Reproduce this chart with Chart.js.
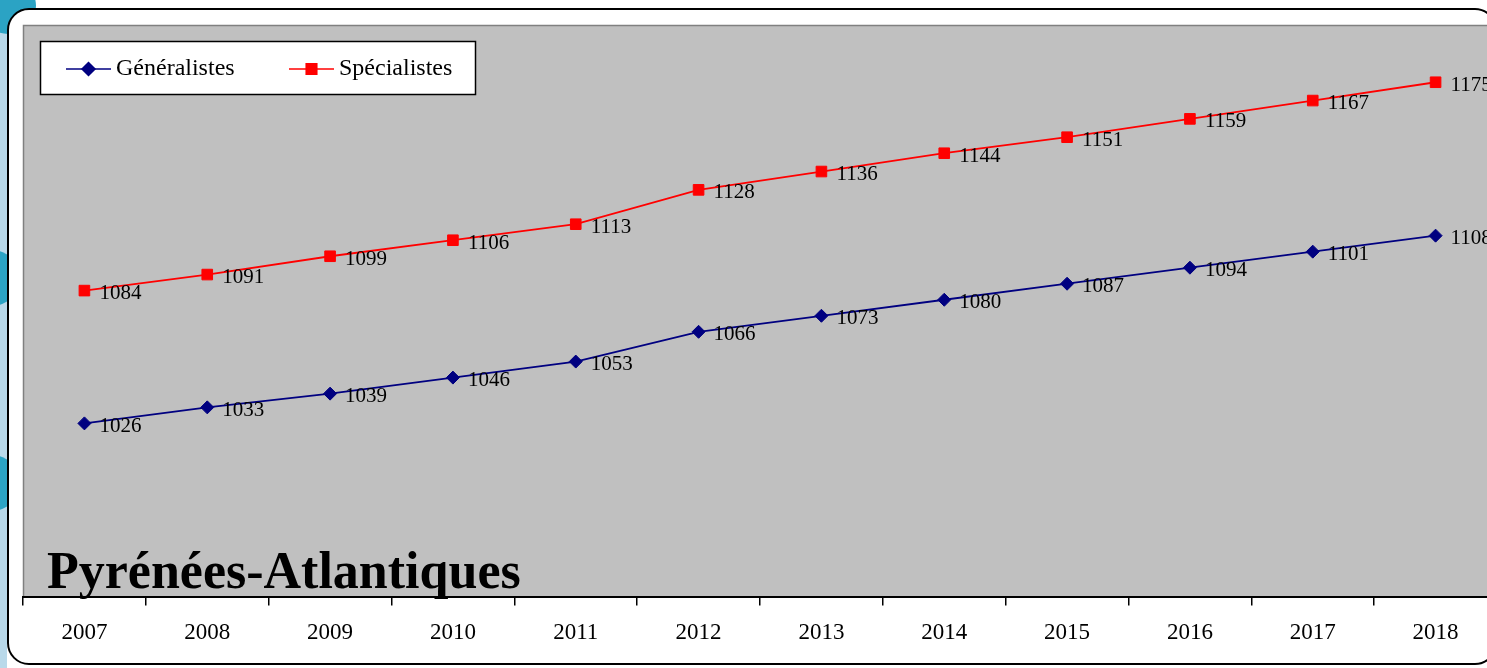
<!DOCTYPE html>
<html>
<head>
<meta charset="utf-8">
<script src="https://cdn.jsdelivr.net/npm/chart.js@4.4.1/dist/chart.umd.min.js"></script>
<style>
  html, body { margin: 0; padding: 0; background: #fff; }
  #wrap { position: relative; width: 1487px; height: 668px; overflow: hidden; }
  .strip { position: absolute; left: 0; top: 0; width: 7px; height: 668px; background: #b9d9ea; }
  .dot { position: absolute; width: 56px; height: 56px; border-radius: 50%; background: #2ba3c4; left: -36px; }
  #frame { position: absolute; left: 7px; top: 8px; width: 1486px; height: 653px;
           border: 2px solid #000; border-radius: 22px; background: #fff; }
  #c { position: absolute; left: 0; top: 0; }
</style>
</head>
<body>
<div id="wrap">
  <div class="strip"></div>
  <div class="dot" style="top:-22px;left:-20px"></div>
  <div class="dot" style="top:250px"></div>
  <div class="dot" style="top:455px"></div>
  <div id="frame"></div>
  <canvas id="c" width="1510" height="668"></canvas>
</div>
<script>
const years = ['2007', '2008', '2009', '2010', '2011', '2012', '2013', '2014', '2015', '2016', '2017', '2018'];
const generalistes = [1026, 1033, 1039, 1046, 1053, 1066, 1073, 1080, 1087, 1094, 1101, 1108];
const specialistes = [1084, 1091, 1099, 1106, 1113, 1128, 1136, 1144, 1151, 1159, 1167, 1175];
const title = 'Pyrénées-Atlantiques';

const serif = '"Liberation Serif", "DejaVu Serif", serif';

// grey plot area, value labels, legend box and title
const decor = {
  id: 'decor',
  beforeDraw(chart) {
    const { ctx, chartArea: a } = chart;
    ctx.save();
    ctx.fillStyle = '#c0c0c0';
    ctx.fillRect(a.left, a.top, a.right - a.left, a.bottom - a.top);
    ctx.strokeStyle = '#808080';
    ctx.lineWidth = 1.5;
    ctx.beginPath();
    ctx.moveTo(a.left + 0.5, a.bottom);
    ctx.lineTo(a.left + 0.5, a.top + 0.5);
    ctx.lineTo(a.right, a.top + 0.5);
    ctx.stroke();
    ctx.restore();
  },
  afterDatasetsDraw(chart) {
    const { ctx } = chart;
    ctx.save();
    ctx.font = '21px ' + serif;
    ctx.fillStyle = '#000';
    ctx.textBaseline = 'middle';
    chart.data.datasets.forEach((ds, i) => {
      chart.getDatasetMeta(i).data.forEach((pt, j) => {
        ctx.fillText(String(ds.data[j]), pt.x + 15, pt.y + 3);
      });
    });

    // legend
    ctx.fillStyle = '#fff';
    ctx.fillRect(40, 41, 436, 54);
    ctx.strokeStyle = '#000';
    ctx.lineWidth = 1.5;
    ctx.strokeRect(40.5, 41.5, 435, 53);
    const items = [
      { x: 66, text: 'Généralistes', ds: chart.data.datasets[0] },
      { x: 289, text: 'Spécialistes', ds: chart.data.datasets[1] }
    ];
    items.forEach(it => {
      ctx.strokeStyle = it.ds.borderColor;
      ctx.lineWidth = 1.5;
      ctx.beginPath();
      ctx.moveTo(it.x, 69);
      ctx.lineTo(it.x + 45, 69);
      ctx.stroke();
      Chart.helpers.drawPoint(ctx, {
        pointStyle: it.ds.pointStyle, radius: it.ds.pointRadius, borderWidth: 1
      }, it.x + 22.5, 69);
      ctx.fillStyle = it.ds.borderColor;
      ctx.fill();
      ctx.fillStyle = '#000';
      ctx.font = '24px ' + serif;
      ctx.fillText(it.text, it.x + 50, 69);
    });

    ctx.font = 'bold 52px ' + serif;
    ctx.textBaseline = 'alphabetic';
    ctx.fillText(title, 47, 588);
    ctx.restore();
  }
};

new Chart(document.getElementById('c'), {
  type: 'line',
  data: {
    labels: years,
    datasets: [
      {
        label: 'Généralistes',
        data: generalistes,
        borderColor: '#000080',
        backgroundColor: '#000080',
        borderWidth: 1.8,
        pointStyle: 'rectRot',
        pointRadius: 6.5,
        pointBorderWidth: 1,
        tension: 0
      },
      {
        label: 'Spécialistes',
        data: specialistes,
        borderColor: '#ff0000',
        backgroundColor: '#ff0000',
        borderWidth: 1.8,
        pointStyle: 'rect',
        pointRadius: 7.5,
        pointBorderWidth: 1,
        tension: 0
      }
    ]
  },
  options: {
    responsive: false,
    animation: false,
    events: [],
    layout: { padding: { left: 23, top: 25, right: 13, bottom: 7 } },
    plugins: { legend: { display: false }, tooltip: { enabled: false } },
    scales: {
      y: { display: false, min: 950, max: 1200 },
      x: {
        offset: true,
        border: { color: '#000', width: 2 },
        grid: { offset: true, drawOnChartArea: false, drawTicks: true, tickLength: 8, color: '#000', lineWidth: 1.5 },
        ticks: { color: '#000', font: { family: serif, size: 23 }, padding: 14, autoSkip: false, maxRotation: 0 }
      }
    }
  },
  plugins: [decor]
});
</script>
</body>
</html>
